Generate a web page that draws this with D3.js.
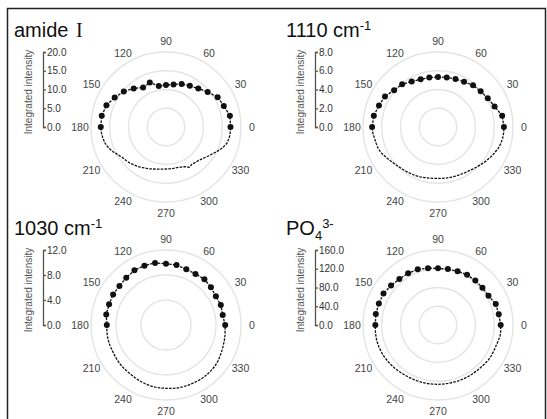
<!DOCTYPE html>
<html>
<head>
<meta charset="utf-8">
<script src="https://cdn.jsdelivr.net/npm/d3@7"></script>
<style>
  body { margin: 0; background: #fff; }
  svg { font-family: "Liberation Sans", Arial, sans-serif; }
</style>
</head>
<body>
<svg id="chart" width="547" height="419"></svg>
<script>
// polarisation angles (deg): dots on the upper half, dashed trace on the lower half
const upperAngles = [0, 10, 20, 30, 40, 50, 60, 70, 80, 90, 100, 110, 120, 130, 140, 150, 160, 170, 180];
const lowerAngles = [185, 190, 195, 200, 205, 210, 215, 220, 225, 230, 235, 240, 245, 250, 255, 260, 265, 270,
                     275, 280, 285, 290, 295, 300, 305, 310, 315, 320, 325, 330, 335, 340, 345, 350, 355];
const angleLabels = [0, 30, 60, 90, 120, 150, 180, 210, 240, 270, 300, 330];

const amideUpper = [17.2, 17.3, 16.4, 15.9, 14.5, 13.4, 12.7, 12.2, 11.5, 11.2, 11.1, 12.6, 12.2, 13.4, 14.7, 15.8, 16.9, 17.4, 17.4];
const amideLower = [17.3, 17.1, 16.8, 16.3, 15.6, 14.8, 14.2, 13.9, 13.6, 13.2, 12.9, 12.5, 12.2, 11.9, 11.6, 11.4, 11.3, 11.2,
                    11.2, 11.2, 11.2, 11.4, 11.7, 12.4, 12.1, 12.3, 12.5, 13.0, 13.6, 14.3, 15.2, 16.1, 16.8, 17.1, 17.2];

const w1110Upper = [7.03, 6.95, 6.42, 6.13, 5.94, 5.81, 5.56, 5.45, 5.36, 5.34, 5.35, 5.42, 5.61, 5.95, 6.11, 6.53, 6.70, 6.95, 7.03];
const w1110Lower = [6.98, 6.88, 6.82, 6.78, 6.62, 6.42, 6.25, 6.08, 5.97, 5.88, 5.82, 5.76, 5.72, 5.65, 5.58, 5.53, 5.50, 5.48,
                    5.50, 5.52, 5.54, 5.57, 5.60, 5.65, 5.72, 5.83, 5.96, 6.12, 6.29, 6.45, 6.62, 6.80, 6.92, 7.00, 7.03];

const w1030Upper = [9.47, 9.21, 9.33, 9.22, 9.38, 9.56, 9.43, 9.49, 9.74, 9.81, 10.09, 10.10, 10.10, 9.89, 9.72, 9.77, 9.69, 9.71, 9.47];
const w1030Lower = [9.50, 9.54, 9.55, 9.54, 9.52, 9.55, 9.60, 9.64, 9.66, 9.68, 9.70, 9.80, 9.88, 9.96, 10.04, 10.10, 10.12, 10.13,
                    10.18, 10.24, 10.26, 10.27, 10.27, 10.29, 10.31, 10.29, 10.26, 10.22, 10.12, 9.98, 9.85, 9.74, 9.66, 9.58, 9.50];

const po4Upper = [133.7, 131.6, 131.1, 124.4, 123.8, 123.8, 123.9, 122.1, 121.1, 120.9, 123.2, 126.3, 127.4, 128.1, 130.8, 134.3, 134.2, 134.7, 133.7];
const po4Lower = [134.2, 134.6, 134.9, 134.5, 134.0, 133.4, 132.4, 131.3, 130.4, 129.3, 128.4, 127.8, 127.4, 127.1, 126.9, 126.8, 126.7, 126.6,
                  126.5, 126.4, 126.4, 126.7, 127.1, 127.4, 127.7, 128.0, 128.5, 129.5, 130.8, 131.3, 131.4, 131.5, 132.8, 134.5, 134.4];

const amideTicks = [0, 5, 10, 15, 20];
const w1110Ticks = [0, 2, 4, 6, 8];
const w1030Ticks = [0, 4, 8, 12];
const po4Ticks = [0, 40, 80, 120, 160];

// title pieces: [text, 0 normal / 1 subscript / -1 superscript / 2 serif]
const panels = [
  { title: [["amide ", 0], ["I", 2]], upper: amideUpper, lower: amideLower, ticks: amideTicks, col: 0, row: 0 },
  { title: [["1110 cm", 0], ["-1", -1]], upper: w1110Upper, lower: w1110Lower, ticks: w1110Ticks, col: 1, row: 0 },
  { title: [["1030 cm", 0], ["-1", -1]], upper: w1030Upper, lower: w1030Lower, ticks: w1030Ticks, col: 0, row: 1 },
  { title: [["PO", 0], ["4", 1], ["3-", -1]], upper: po4Upper, lower: po4Lower, ticks: po4Ticks, col: 1, row: 1 }
];

const svg = d3.select("#chart");
const R = 75;
const toRad = Math.PI / 180;

// frame
svg.append("path")
  .attr("d", "M7.5,419 V8.5 H545.5 V419")
  .attr("fill", "none")
  .attr("stroke", "#222")
  .attr("stroke-width", 1.5);

panels.forEach(p => {
  const ox = p.col * 272, oy = p.row * 198;
  const cx = 166 + ox, cy = 127 + oy;
  const max = d3.max(p.ticks);
  const g = svg.append("g");

  // title with sub/superscripts
  const t = g.append("text")
    .attr("x", 14 + ox).attr("y", 37 + oy)
    .attr("font-size", 20).attr("fill", "#111");
  p.title.forEach(([s, k]) => {
    const ts = t.append("tspan").text(s);
    if (k === -1) ts.attr("font-size", 13).attr("baseline-shift", "7");
    if (k === 1) ts.attr("font-size", 13).attr("baseline-shift", "-5");
    if (k === 2) ts.attr("font-family", "Liberation Serif, DejaVu Serif, serif").attr("dx", 2);
  });

  // radial axis on the left
  const yScale = d3.scaleLinear().domain([0, max]).range([cy, cy - R]);
  const ax = g.append("g")
    .attr("transform", `translate(${43 + ox},0)`)
    .call(d3.axisRight(yScale).tickValues(p.ticks).tickSize(3).tickSizeOuter(3).tickFormat(d3.format(".1f")));
  ax.select(".domain").attr("stroke", "#555").attr("stroke-width", 1.3);
  ax.selectAll(".tick line").attr("stroke", "#555").attr("stroke-width", 1.3);
  ax.selectAll(".tick text").attr("x", 4).attr("font-size", 10)
    .attr("fill", "#333").attr("font-family", "Liberation Sans, Arial, sans-serif");

  g.append("text")
    .attr("transform", `translate(${32 + ox},${cy - 35}) rotate(-90)`)
    .attr("text-anchor", "middle")
    .attr("font-size", 10).attr("fill", "#555")
    .text("Integrated intensity");

  // polar part
  const rScale = d3.scaleLinear().domain([0, max]).range([0, R]);
  const pg = g.append("g").attr("transform", `translate(${cx},${cy})`);

  pg.selectAll("circle.ring")
    .data(p.ticks.filter(v => v > 0))
    .join("circle")
    .attr("class", "ring")
    .attr("r", d => rScale(d))
    .attr("fill", "none")
    .attr("stroke", "#e4e4e4")
    .attr("stroke-width", 1.4);

  pg.selectAll("text.ang")
    .data(angleLabels)
    .join("text")
    .attr("class", "ang")
    .attr("x", d => (R + 11) * Math.cos(d * toRad))
    .attr("y", d => -(R + 11) * Math.sin(d * toRad))
    .attr("text-anchor", "middle")
    .attr("dominant-baseline", "central")
    .attr("font-size", 10.5).attr("fill", "#444")
    .text(d => d);

  const pts = upperAngles.map((a, i) => ({ a, v: p.upper[i] }))
    .concat(lowerAngles.map((a, i) => ({ a, v: p.lower[i] })));

  const line = d3.lineRadial()
    .angle(d => (90 - d.a) * toRad)
    .radius(d => rScale(d.v))
    .curve(d3.curveLinearClosed);

  pg.append("path")
    .attr("d", line(pts))
    .attr("fill", "none")
    .attr("stroke", "#111")
    .attr("stroke-width", 1.3)
    .attr("stroke-dasharray", "2.6,1.2");

  pg.selectAll("circle.dot")
    .data(upperAngles.map((a, i) => ({ a, v: p.upper[i] })))
    .join("circle")
    .attr("class", "dot")
    .attr("cx", d => rScale(d.v) * Math.cos(d.a * toRad))
    .attr("cy", d => -rScale(d.v) * Math.sin(d.a * toRad))
    .attr("r", 3)
    .attr("fill", "#111");
});
</script>
</body>
</html>
